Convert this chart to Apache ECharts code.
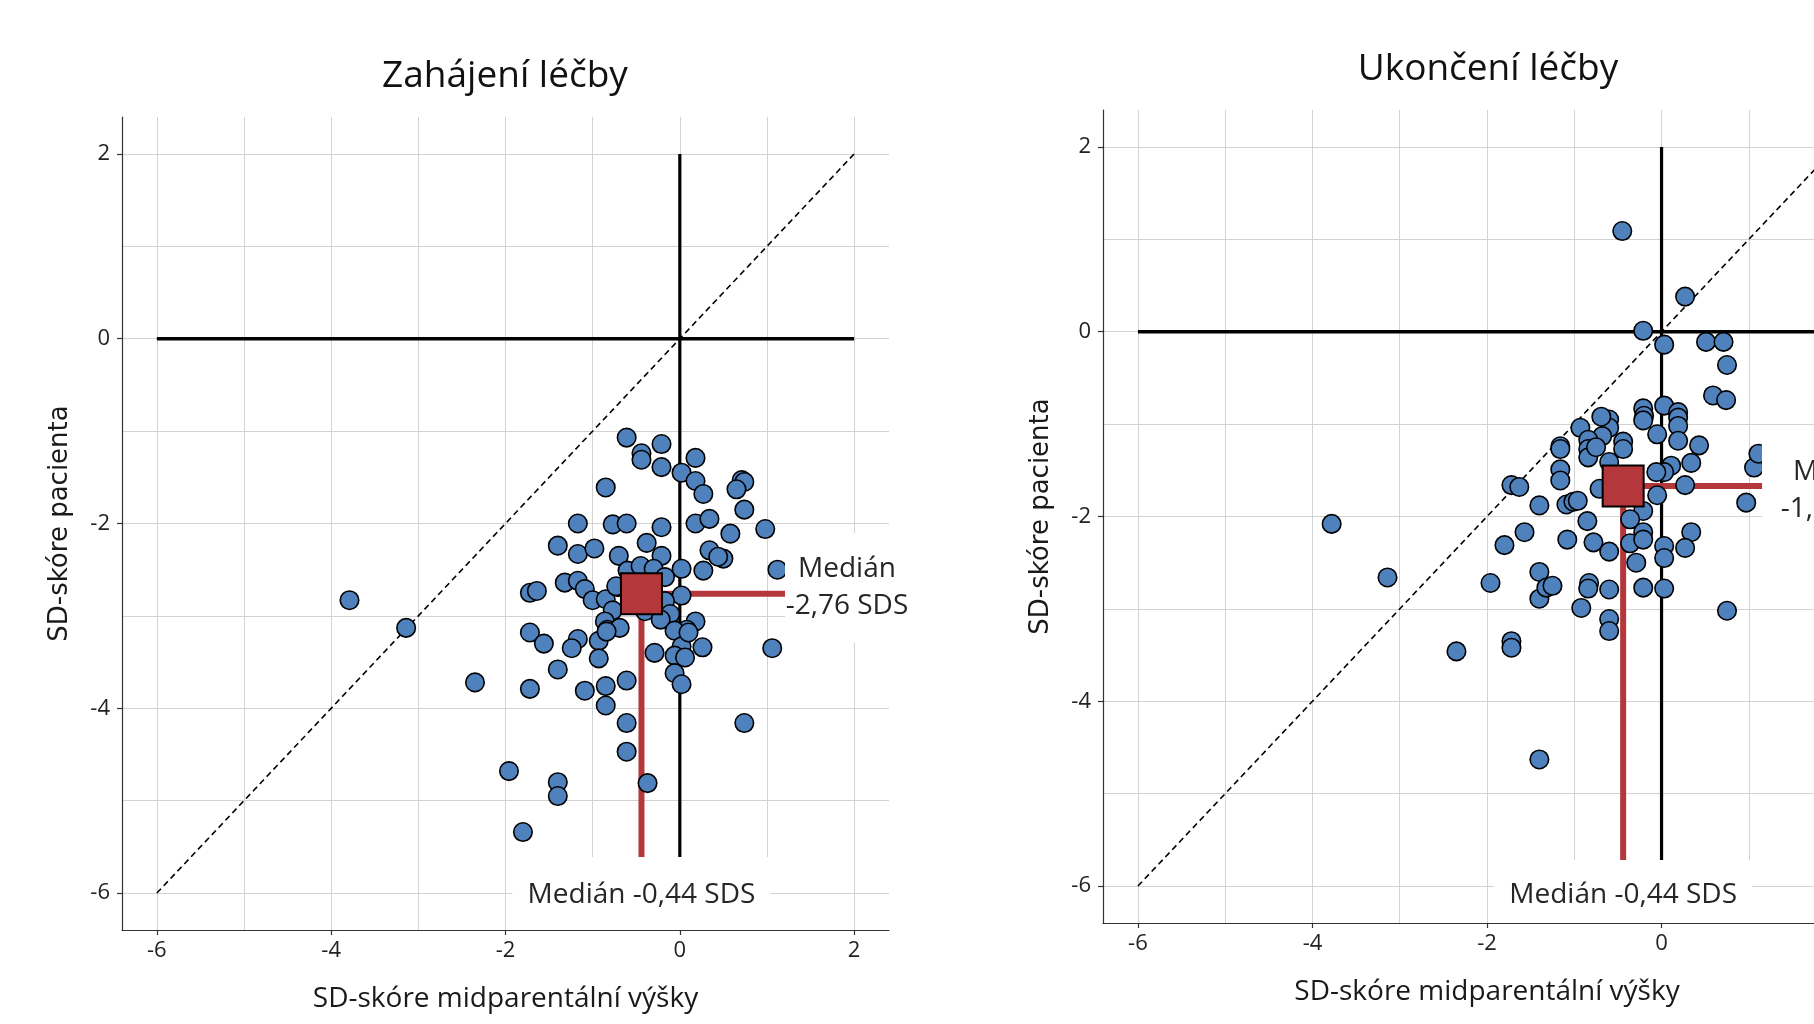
<!DOCTYPE html>
<html>
<head>
<meta charset="utf-8">
<title>SD-skóre pacienta vs. midparentální výšky</title>
<script src="https://cdn.jsdelivr.net/npm/echarts@6/dist/echarts.min.js"></script>
<style>
  html, body { margin: 0; padding: 0; background: #fff; overflow: hidden; width: 1814px; height: 1024px; }
  #chart { width: 1900px; height: 1024px; }
</style>
</head>
<body>
<div id="chart"></div>
<script>
"use strict";

const panelTitles = ["Zahájení léčby", "Ukončení léčby"];
const xAxisTitle = "SD-skóre midparentální výšky";
const yAxisTitle = "SD-skóre pacienta";
const tickValues = [-6, -4, -2, 0, 2];
const gridValues = [-6, -5, -4, -3, -2, -1, 0, 1, 2];
const axisMin = -6.4;
const axisMax = 2.4;
const refMin = -6;
const refMax = 2;

// [SDS midparentální výšky, SDS pacienta]
const startPoints = [
  [-0.61, -1.07], [-0.44, -1.24], [-0.44, -1.31], [-0.21, -1.14], [-0.21, -1.39],
  [0.18, -1.29], [0.02, -1.45], [0.18, -1.54], [0.27, -1.68], [0.71, -1.53],
  [0.74, -1.55], [0.65, -1.63], [0.74, -1.85], [-0.85, -1.61], [-1.17, -2.0],
  [-0.77, -2.01], [-0.61, -2.0], [-0.21, -2.04], [0.18, -2.0], [0.34, -1.95],
  [0.58, -2.11], [0.98, -2.06], [-0.38, -2.21], [-1.4, -2.24], [-1.17, -2.33],
  [-0.98, -2.27], [-0.7, -2.35], [-0.21, -2.35], [0.34, -2.29], [0.5, -2.38],
  [0.44, -2.36], [0.02, -2.49], [0.27, -2.51], [1.12, -2.5], [-0.6, -2.51],
  [-0.45, -2.46], [-0.3, -2.49], [-0.17, -2.58], [-1.32, -2.64], [-1.17, -2.62],
  [-1.09, -2.71], [-1.0, -2.83], [-1.72, -2.75], [-1.64, -2.73], [-0.85, -2.82],
  [-0.77, -2.94], [-0.71, -2.69], [0.02, -2.78], [-0.17, -2.84], [-0.11, -2.98],
  [-0.4, -2.95], [-0.22, -3.04], [-0.86, -3.06], [-0.83, -3.15], [-0.69, -3.13],
  [0.18, -3.06], [0.08, -3.15], [-0.06, -3.16], [-1.72, -3.18], [-1.56, -3.3],
  [-1.17, -3.25], [-1.24, -3.35], [-0.93, -3.27], [-0.93, -3.46], [-0.29, -3.4],
  [0.02, -3.33], [-0.06, -3.43], [0.06, -3.45], [0.26, -3.34], [-0.06, -3.62],
  [0.02, -3.74], [1.06, -3.35], [-1.4, -3.58], [-2.35, -3.72], [-1.72, -3.79],
  [-1.09, -3.81], [-0.85, -3.76], [-0.85, -3.97], [-0.61, -3.7], [-0.61, -4.16],
  [-0.61, -4.47], [0.74, -4.16], [-1.96, -4.68], [-1.4, -4.8], [-1.4, -4.95],
  [-0.37, -4.81], [-1.8, -5.34], [-3.79, -2.83], [-3.14, -3.13], [-0.84, -3.17],
  [0.1, -3.18], [-0.73, -2.68]
];

const endPoints = [
  [-0.45, 1.09], [0.27, 0.38], [-0.21, 0.01], [0.03, -0.14], [0.51, -0.11],
  [0.71, -0.11], [0.75, -0.36], [0.59, -0.69], [0.74, -0.74], [0.03, -0.8],
  [-0.21, -0.83], [-0.2, -0.91], [-0.21, -0.96], [0.19, -0.87], [0.19, -0.93],
  [0.19, -1.02], [-0.05, -1.11], [0.19, -1.18], [0.43, -1.23], [-0.6, -0.95],
  [-0.6, -1.04], [-0.69, -0.92], [-0.68, -1.13], [-0.44, -1.19], [-0.44, -1.27],
  [0.34, -1.42], [0.11, -1.45], [0.03, -1.52], [-0.06, -1.52], [0.27, -1.66],
  [-0.05, -1.77], [1.06, -1.47], [1.11, -1.32], [0.97, -1.85], [-0.21, -1.94],
  [-0.36, -2.03], [-0.21, -2.17], [0.34, -2.17], [-0.93, -1.04], [-0.84, -1.17],
  [-0.84, -1.27], [-0.84, -1.36], [-0.75, -1.25], [-1.16, -1.24], [-1.16, -1.27],
  [-0.6, -1.41], [-1.16, -1.49], [-1.16, -1.61], [-1.72, -1.66], [-1.63, -1.68],
  [-1.4, -1.88], [-1.09, -1.87], [-1.01, -1.84], [-0.96, -1.83], [-0.85, -2.05],
  [-0.71, -1.7], [-1.57, -2.17], [-1.8, -2.31], [-1.08, -2.25], [-0.78, -2.28],
  [-0.6, -2.38], [-0.36, -2.29], [-0.21, -2.25], [0.03, -2.32], [0.03, -2.45],
  [0.27, -2.34], [-0.29, -2.5], [-1.96, -2.72], [-1.4, -2.6], [-1.4, -2.89],
  [-1.32, -2.77], [-1.25, -2.75], [-0.83, -2.72], [-0.84, -2.78], [-0.6, -2.79],
  [-0.21, -2.77], [0.03, -2.78], [-0.92, -2.99], [-0.6, -3.11], [-0.6, -3.24],
  [0.75, -3.02], [-2.35, -3.46], [-1.72, -3.35], [-1.72, -3.42], [-1.4, -4.63],
  [-3.78, -2.08], [-3.14, -2.66]
];

const startMedian = [-0.44, -2.76];
const endMedian = [-0.44, -1.67];
const startLabels = ["Medián -0,44 SDS", "Medián\n-2,76 SDS"];
const endLabels = ["Medián -0,44 SDS", "Medián\n-1,67 SDS"];

const blue = "#4F81BD";
const red = "#B4373B";
const gridColor = "#d2d2d2";
const textFont = "Open Sans";

const panels = [
  {
    grid: { left: 122, top: 117, width: 767, height: 813 },
    titleX: 505, titleY: 58,
    points: startPoints, median: startMedian, labels: startLabels,
    bottomBox: { x: -129, y: -36, w: 258, textDy: 2 },
    sideBox: { x: -104, y: -61, w: 125, h: 110, textDx: -42, textDy: -6 }
  },
  {
    grid: { left: 1103, top: 110, width: 768, height: 813 },
    titleX: 1488, titleY: 51,
    points: endPoints, median: endMedian, labels: endLabels,
    bottomBox: { x: -129, y: -26, w: 258, textDy: 9 },
    sideBox: { x: -109, y: -55, w: 200, h: 110, textDx: -29, textDy: 5 }
  }
];

const chart = echarts.init(document.getElementById("chart"), null, { renderer: "canvas" });

const makeAxis = (i, isX) => ({
  type: "value",
  gridIndex: i,
  z: 20,
  min: axisMin,
  max: axisMax,
  name: isX ? xAxisTitle : yAxisTitle,
  nameLocation: "middle",
  nameGap: isX ? 55 : 49,
  nameTextStyle: isX
    ? { fontFamily: textFont, fontSize: 28, color: "#1a1a1a" }
    : { fontFamily: "DejaVu Sans", fontSize: 26, color: "#1a1a1a" },
  axisLine: { show: true, onZero: false, lineStyle: { color: "#333", width: 1.2 } },
  axisTick: { show: true, length: 5, customValues: tickValues, lineStyle: { color: "#333", width: 1.2 } },
  axisLabel: {
    customValues: tickValues,
    margin: isX ? 10 : 12,
    fontFamily: textFont,
    fontSize: 22,
    color: "#222"
  },
  splitLine: { show: false }
});

// white label box with text, anchored to a data point
const labelSeries = (i, anchor, box, text) => ({
  type: "custom",
  xAxisIndex: i,
  yAxisIndex: i,
  silent: true,
  z: 10,
  data: [anchor],
  renderItem: (params, api) => {
    const p = api.coord([api.value(0), api.value(1)]);
    const bottom = api.coord([api.value(0), axisMin])[1] + 1;
    const h = box.h || bottom - (p[1] + box.y);
    return {
      type: "group",
      children: [
        {
          type: "rect",
          shape: { x: p[0] + box.x, y: p[1] + box.y, width: box.w, height: h },
          style: { fill: "#fff" }
        },
        {
          type: "text",
          x: p[0] + (box.textDx || 0),
          y: p[1] + box.textDy,
          style: {
            text: text,
            fill: "#262626",
            font: "28px '" + textFont + "'",
            align: "center",
            verticalAlign: "middle",
            lineHeight: 37
          }
        }
      ]
    };
  }
});

const series = [];
panels.forEach((pn, i) => {
  const [mx, my] = pn.median;
  series.push(
    {
      type: "line", xAxisIndex: i, yAxisIndex: i, data: [], silent: true, z: 0,
      markLine: {
        silent: true, z: 0, animation: false, symbol: ["none", "none"],
        label: { show: false }, emphasis: { disabled: true },
        lineStyle: { color: gridColor, width: 1, type: "solid" },
        data: gridValues.map(v => ({ xAxis: v })).concat(gridValues.map(v => ({ yAxis: v })))
      }
    },
    {
      type: "line", xAxisIndex: i, yAxisIndex: i, symbol: "none", silent: true, z: 2,
      data: [[refMin, refMin], [refMax, refMax]],
      lineStyle: { color: "#000", width: 1.6, type: [6, 4] }
    },
    {
      type: "line", xAxisIndex: i, yAxisIndex: i, symbol: "none", silent: true, z: 2,
      data: [[refMin, 0], [refMax, 0]],
      lineStyle: { color: "#000", width: 3.6 }
    },
    {
      type: "line", xAxisIndex: i, yAxisIndex: i, symbol: "none", silent: true, z: 2,
      data: [[0, refMax], [0, axisMin]],
      lineStyle: { color: "#000", width: 3.2 }
    },
    {
      type: "line", xAxisIndex: i, yAxisIndex: i, symbol: "none", silent: true, z: 3,
      data: [[mx, my], [mx, axisMin]],
      lineStyle: { color: red, width: 6 }
    },
    {
      type: "line", xAxisIndex: i, yAxisIndex: i, symbol: "none", silent: true, z: 3,
      data: [[mx, my], [axisMax, my]],
      lineStyle: { color: red, width: 6 }
    },
    {
      type: "scatter", xAxisIndex: i, yAxisIndex: i, silent: true, z: 4,
      data: pn.points, symbol: "circle", symbolSize: 18.5,
      itemStyle: { color: blue, borderColor: "#000", borderWidth: 1.6, opacity: 1 }
    },
    {
      type: "scatter", xAxisIndex: i, yAxisIndex: i, silent: true, z: 5,
      data: [pn.median], symbol: "rect", symbolSize: 41,
      itemStyle: { color: red, borderColor: "#000", borderWidth: 2, opacity: 1 }
    },
    labelSeries(i, [mx, refMin], pn.bottomBox, pn.labels[0]),
    labelSeries(i, [axisMax, my], pn.sideBox, pn.labels[1])
  );
});

chart.setOption({
  animation: false,
  backgroundColor: "#fff",
  title: panels.map((pn, i) => ({
    text: panelTitles[i],
    left: pn.titleX,
    top: pn.titleY,
    textAlign: "center",
    padding: 0,
    textStyle: { fontFamily: textFont, fontSize: 37, fontWeight: "normal", color: "#111" }
  })),
  grid: panels.map(pn => Object.assign({ containLabel: false }, pn.grid)),
  xAxis: panels.map((pn, i) => makeAxis(i, true)),
  yAxis: panels.map((pn, i) => makeAxis(i, false)),
  series: series
});
</script>
</body>
</html>
